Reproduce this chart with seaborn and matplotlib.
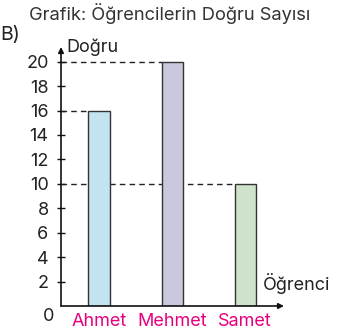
import matplotlib
matplotlib.use("Agg")
import matplotlib.pyplot as plt
import seaborn as sns
import pandas as pd

# Data
students = ["Ahmet", "Mehmet", "Samet"]
correct = [16, 20, 10]
bar_colors = ["#bde6f8", "#c7c4e2", "#cde6c6"]
y_ticks = [2, 4, 6, 8, 10, 12, 14, 16, 18, 20]

sns.set_theme(style="white")
plt.rcParams["font.family"] = ["Inter", "DejaVu Sans"]

df = pd.DataFrame({"Öğrenci": students, "Doğru": correct})

fig = plt.figure(figsize=(3.49, 3.33), dpi=100)
W, H = 349, 333
ax = fig.add_axes([61 / W, 1 - 306 / H, (284 - 61) / W, (306 - 47) / H])

sns.barplot(data=df, x="Öğrenci", y="Doğru", hue="Öğrenci", palette=bar_colors,
            width=0.29, edgecolor="#333333", linewidth=1.0, legend=False, ax=ax,
            zorder=3)

ax.set_xlim(-0.52, 2.53)
ax.set_ylim(0, 21.2)

# dashed guide lines from the y axis to each bar top
for i, v in enumerate(correct):
    ax.plot([-0.52, i - 0.145], [v, v], color="#222222", lw=1.0,
            ls=(0, (4, 3)), zorder=1)

for s in ax.spines.values():
    s.set_visible(False)

# axis arrows
ax.annotate("", xy=(0, 1), xytext=(0, 0), xycoords="axes fraction",
            arrowprops=dict(arrowstyle="-|>", color="#111111", lw=1.2,
                            mutation_scale=8, shrinkA=0, shrinkB=0))
ax.annotate("", xy=(1, 0), xytext=(0, 0), xycoords="axes fraction",
            arrowprops=dict(arrowstyle="-|>", color="#111111", lw=1.2,
                            mutation_scale=8, shrinkA=0, shrinkB=0))

FS = 13
ax.set_yticks(y_ticks)
ax.set_yticklabels([str(t) for t in y_ticks])
ax.tick_params(axis="y", which="major", left=True, direction="inout", length=6,
               width=1.0, color="#111111", labelsize=FS, labelcolor="#222222",
               pad=6)
ax.tick_params(axis="x", bottom=False, length=0, labelsize=FS,
               labelcolor="#e6007e", pad=5)
ax.set_xlabel("")
ax.set_ylabel("")

# origin label and axis names
ax.annotate("0", xy=(0, 0), xycoords="axes fraction", xytext=(-5, -7.5),
            textcoords="offset points", ha="right", va="center",
            fontsize=FS, color="#222222")
ax.text(0.025, 1.0, "Doğru", transform=ax.transAxes, ha="left", va="center",
        fontsize=FS, color="#222222")
ax.text(0.905, 0.085, "Öğrenci", transform=ax.transAxes, ha="left", va="center",
        fontsize=FS, color="#222222")

fig.text(170 / W, 1 - 13 / H, "Grafik: Öğrencilerin Doğru Sayısı",
         ha="center", va="center", fontsize=13.2, color="#333333")
fig.text(0.0, 1 - 35 / H, "B)", ha="left", va="center", fontsize=14,
         color="#222222")

fig.savefig("out.png", dpi=100)
